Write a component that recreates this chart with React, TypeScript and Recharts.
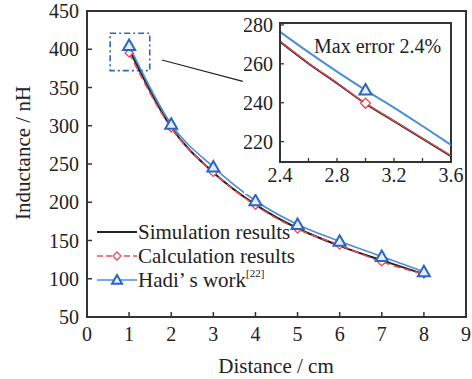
import * as React from 'react'
import { LineChart, Line, XAxis, YAxis, ReferenceArea, ReferenceLine, Label } from 'recharts'

const distance = [1, 2, 3, 4, 5, 6, 7, 8]
const simulation = [400, 298, 239, 197, 166, 143, 124, 106]
const calculation = [395, 297, 239, 196, 165, 144, 122, 106]
const hadi = [405, 302, 246, 202, 171, 149, 129, 109]

const xTicks = [0, 1, 2, 3, 4, 5, 6, 7, 8, 9]
const yTicks = [50, 100, 150, 200, 250, 300, 350, 400, 450]

const insetX = [2.4, 2.6, 2.8, 3.0, 3.2, 3.4, 3.6]
const insetSimulation = [271.4, 260.2, 250.0, 239.5, 230.5, 221.5, 212.5]
const insetCalculation = [271.6, 260.4, 250.2, 239.7, 230.7, 221.7, 212.7]
const insetHadi = [276.5, 266.0, 256.0, 246.5, 237.5, 228.0, 218.3]
const insetXTicks = [2.4, 2.6, 2.8, 3.0, 3.2, 3.4, 3.6]
const insetXLabels = [2.4, 2.8, 3.2, 3.6]
const insetYTicks = [220, 240, 260, 280]

const legendLabels = ['Simulation results', 'Calculation results', 'Hadi\u2019 s work']

const mainData = distance.map((d, i) => ({
  x: d,
  sim: simulation[i],
  calc: calculation[i],
  hadi: hadi[i]
}))

const insetData = insetX.map((d, i) => ({
  x: d,
  sim: insetSimulation[i],
  calc: insetCalculation[i],
  hadi: insetHadi[i]
}))

const FONT = '"Liberation Serif", "DejaVu Serif", serif'
const AXIS = '#333'
const BLACK = '#222'
const RED = '#ee4a55'
const BLUE_LINE = '#4a8fdc'
const BLUE_MARK = '#2b66c2'

const textStyle: React.CSSProperties = { fontFamily: FONT }

function XTick(props: any) {
  const v = props.payload.value
  const show = props.labels ? props.labels.some((l: number) => Math.abs(l - v) < 1e-6) : true
  if (!show) return <g />
  return (
    <text x={props.x} y={props.y} dy='0.71em' textAnchor='middle' fill='#222' style={{ ...textStyle, fontSize: 20 }}>
      {props.digits ? v.toFixed(props.digits) : v}
    </text>
  )
}

function YTick(props: any) {
  return (
    <text x={props.x} y={props.y} dy='0.355em' textAnchor='end' fill='#222' style={{ ...textStyle, fontSize: 20 }}>
      {props.payload.value}
    </text>
  )
}

function Diamond({ cx, cy, r = 4 }: { cx: number; cy: number; r?: number }) {
  return (
    <path
      d={`M${cx},${cy - r}L${cx + r},${cy}L${cx},${cy + r}L${cx - r},${cy}Z`}
      fill='#fff'
      stroke={RED}
      strokeWidth={1.3}
    />
  )
}

function Triangle({ cx, cy, r = 6 }: { cx: number; cy: number; r?: number }) {
  return (
    <path
      d={`M${cx},${cy - r}L${cx + r},${cy + r * 0.75}L${cx - r},${cy + r * 0.75}Z`}
      fill='#e4edf9'
      stroke={BLUE_MARK}
      strokeWidth={2}
    />
  )
}

const diamondDot = (props: any) => <Diamond key={`d${props.index}`} cx={props.cx} cy={props.cy} />
const triangleDot = (props: any) => <Triangle key={`t${props.index}`} cx={props.cx} cy={props.cy} />

const insetDiamond = (props: any) =>
  props.payload.x === 3 ? (
    <Diamond key={`id${props.index}`} cx={props.cx} cy={props.cy} r={5} />
  ) : (
    <g key={`id${props.index}`} />
  )
const insetTriangle = (props: any) =>
  props.payload.x === 3 ? (
    <Triangle key={`it${props.index}`} cx={props.cx} cy={props.cy} />
  ) : (
    <g key={`it${props.index}`} />
  )

function LegendBox() {
  const rows = [
    { color: BLACK, dash: undefined as string | undefined, mark: 'none' },
    { color: RED, dash: '6 3', mark: 'diamond' },
    { color: BLUE_LINE, dash: undefined, mark: 'triangle' }
  ]
  return (
    <svg width={230} height={80} style={{ position: 'absolute', left: 95, top: 218, overflow: 'visible' }}>
      {rows.map((r, i) => {
        const y = 14 + i * 24
        return (
          <g key={i}>
            <line
              x1={2}
              x2={42}
              y1={y}
              y2={y}
              stroke={r.color}
              strokeWidth={r.mark === 'none' ? 2 : 1.4}
              strokeDasharray={r.dash}
            />
            {r.mark === 'diamond' ? <Diamond cx={22} cy={y} /> : null}
            {r.mark === 'triangle' ? <Triangle cx={22} cy={y} r={5} /> : null}
            <text x={43} y={y + 7} style={{ ...textStyle, fontSize: 21 }} fill='#222'>
              {legendLabels[i]}
              {i === 2 ? (
                <tspan style={{ fontSize: 11 }} dy={-10}>
                  [22]
                </tspan>
              ) : null}
            </text>
          </g>
        )
      })}
    </svg>
  )
}

export default function App() {
  return (
    <div
      style={{
        position: 'absolute',
        left: 0,
        top: 0,
        width: 472,
        height: 379,
        background: '#fff',
        fontFamily: FONT
      }}
    >
      <LineChart width={472} height={379} data={mainData} margin={{ top: 11, right: 6, bottom: 0, left: 27 }}>
        <XAxis
          dataKey='x'
          type='number'
          domain={[0, 9]}
          ticks={xTicks}
          height={62}
          interval={0}
          tickSize={-5}
          tickMargin={15}
          tick={(p: any) => <XTick {...p} />}
          axisLine={{ stroke: AXIS, strokeWidth: 2 }}
          tickLine={{ stroke: AXIS, strokeWidth: 1.5 }}
        >
          <Label
            content={() => (
              <text x={276} y={373} textAnchor='middle' style={{ ...textStyle, fontSize: 21 }} fill='#222'>
                Distance / cm
              </text>
            )}
          />
        </XAxis>
        <YAxis
          type='number'
          domain={[50, 450]}
          ticks={yTicks}
          width={60}
          interval={0}
          tickSize={-5}
          tickMargin={13}
          tick={(p: any) => <YTick {...p} />}
          axisLine={{ stroke: AXIS, strokeWidth: 2 }}
          tickLine={{ stroke: AXIS, strokeWidth: 1.5 }}
        >
          <Label
            content={() => (
              <text
                x={23}
                y={153}
                textAnchor='middle'
                dominantBaseline='central'
                transform='rotate(-90, 23, 153)'
                style={{ ...textStyle, fontSize: 21 }}
                fill='#222'
              >
                Inductance / nH
              </text>
            )}
          />
        </YAxis>
        <ReferenceArea x1={0} x2={9} y1={50} y2={450} stroke={AXIS} strokeWidth={2} fill='none' fillOpacity={0} />
        <ReferenceArea
          x1={0.55}
          x2={1.49}
          y1={372}
          y2={421}
          stroke={BLUE_MARK}
          strokeWidth={1.6}
          strokeDasharray='6 3 2 3'
          fill='none'
          fillOpacity={0}
        />
        <ReferenceLine
          segment={[
            { x: 1.78, y: 386 },
            { x: 3.7, y: 358 }
          ]}
          stroke={BLACK}
          strokeWidth={1.2}
        />
        <Line dataKey='sim' type='monotone' stroke={BLACK} strokeWidth={2} dot={false} isAnimationActive={false} />
        <Line
          dataKey='calc'
          type='monotone'
          stroke={RED}
          strokeWidth={1.5}
          strokeDasharray='7 4'
          dot={diamondDot}
          isAnimationActive={false}
        />
        <Line
          dataKey='hadi'
          type='monotone'
          stroke={BLUE_LINE}
          strokeWidth={1.6}
          dot={triangleDot}
          isAnimationActive={false}
        />
      </LineChart>

      <LegendBox />

      <div style={{ position: 'absolute', left: 244, top: 14, width: 220, height: 180, background: '#fff' }}>
        <LineChart width={220} height={180} data={insetData} margin={{ top: 9, right: 13, bottom: 6, left: 0 }}>
          <XAxis
            dataKey='x'
            type='number'
            domain={[2.4, 3.6]}
            ticks={insetXTicks}
            interval={0}
            height={26}
            tickSize={-4}
            tickMargin={10}
            tick={(p: any) => <XTick {...p} labels={insetXLabels} digits={1} />}
            axisLine={{ stroke: AXIS, strokeWidth: 2 }}
            tickLine={{ stroke: AXIS, strokeWidth: 1.3 }}
          />
          <YAxis
            type='number'
            domain={[209.5, 281]}
            ticks={insetYTicks}
            interval={0}
            width={36}
            tickSize={-4}
            tickMargin={11}
            tick={(p: any) => <YTick {...p} />}
            axisLine={{ stroke: AXIS, strokeWidth: 2 }}
            tickLine={{ stroke: AXIS, strokeWidth: 1.3 }}
          />
          <ReferenceArea x1={2.4} x2={3.6} y1={209.5} y2={281} stroke={AXIS} strokeWidth={2} fill='none' fillOpacity={0} />
          <Line dataKey='sim' type='monotone' stroke={BLACK} strokeWidth={2} dot={false} isAnimationActive={false} />
          <Line dataKey='calc' type='monotone' stroke={RED} strokeWidth={1.2} dot={insetDiamond} isAnimationActive={false} />
          <Line dataKey='hadi' type='monotone' stroke={BLUE_LINE} strokeWidth={2} dot={insetTriangle} isAnimationActive={false} />
        </LineChart>
        <div
          style={{
            position: 'absolute',
            left: 70,
            top: 20,
            fontFamily: FONT,
            fontSize: 20,
            color: '#222',
            whiteSpace: 'nowrap',
            lineHeight: '24px'
          }}
        >
          Max error 2.4%
        </div>
      </div>
    </div>
  )
}
